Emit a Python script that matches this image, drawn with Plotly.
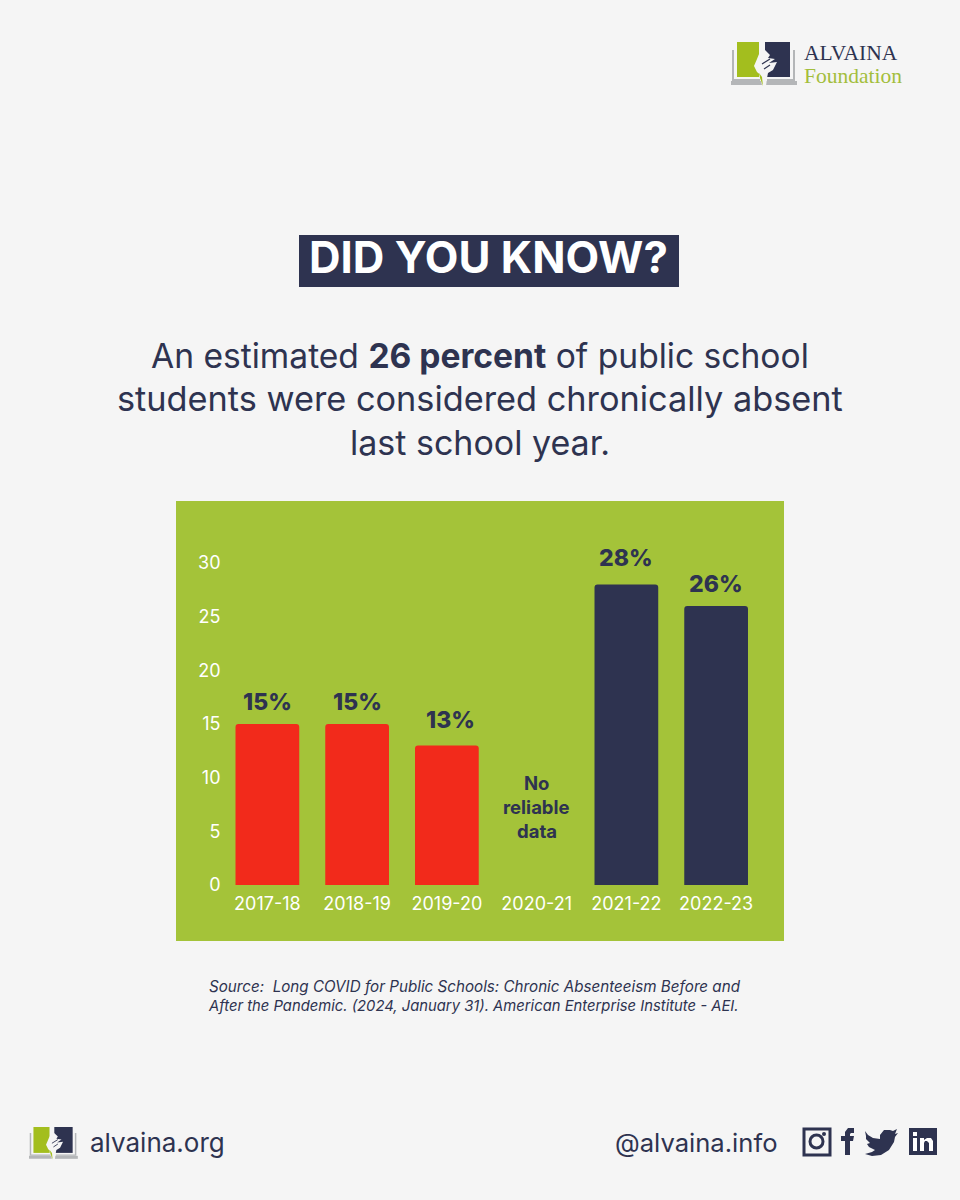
import plotly.graph_objects as go

# chart data
years = ["2017-18", "2018-19", "2019-20", "2020-21", "2021-22", "2022-23"]
percent = [15, 15, 13, None, 28, 26]
bar_colors = ["#F22A1B", "#F22A1B", "#F22A1B", "#F22A1B", "#2E3350", "#2E3350"]
y_ticks = [0, 5, 10, 15, 20, 25, 30]

NAVY = "#2E3350"
GREEN = "#A4C339"
LOGO_GREEN = "#A3BE1E"
BG = "#F5F5F5"
GREY = "#B4B6B8"
FONT = "Inter"

W, H = 960, 1200


def px(x):
    return x / W


def py(y):
    return 1 - y / H


shapes = []
annotations = []


def rect(x0, y0, x1, y1, color, layer="below"):
    shapes.append(dict(type="rect", xref="paper", yref="paper", x0=px(x0), x1=px(x1),
                       y0=py(y0), y1=py(y1), fillcolor=color, line=dict(width=0), layer=layer))


def path(points, color, ox=0, oy=0, s=1.0, closed=True, width=0):
    d = ""
    for i, (x, y) in enumerate(points):
        d += ("M" if i == 0 else "L") + f"{px(ox + x * s):.5f},{py(oy + y * s):.5f} "
    if closed:
        d += "Z"
    shapes.append(dict(type="path", xref="paper", yref="paper", path=d,
                       fillcolor=color if closed else None,
                       line=dict(width=width, color=color), layer="above"))


def label(x, y, text, size, color=NAVY, family=FONT, anchor="center"):
    annotations.append(dict(xref="paper", yref="paper", x=px(x), y=py(y), text=text,
                            showarrow=False, xanchor=anchor, yanchor="middle",
                            font=dict(size=size, color=color, family=family)))


def logo(ox, oy, s):
    # grey open book
    path([(2, 8), (2, 38), (29, 38)], GREY, ox, oy, s, closed=False, width=2 * s)
    path([(63, 8), (63, 38), (36, 38)], GREY, ox, oy, s, closed=False, width=2 * s)
    path([(0, 39), (30, 39), (31, 43), (0, 43)], GREY, ox, oy, s)
    path([(35, 39), (66, 39), (66, 43), (35, 43)], GREY, ox, oy, s)
    # two pages
    path([(6, 0), (28, 0), (28, 35), (6, 35)], LOGO_GREEN, ox, oy, s)
    path([(34, 0), (59, 0), (59, 35), (34, 35)], NAVY, ox, oy, s)
    # hand between the pages
    path([(34, 0), (34, 8), (39, 13), (37, 16), (44, 17), (38, 21), (46, 20), (42, 28), (37, 31), (36, 36),
          (35, 44), (33, 44), (33, 36), (26, 30), (23, 24), (26, 17), (28, 12), (28, 0)], BG, ox, oy, s)
    path([(31, 22), (39, 17)], NAVY, ox, oy, s, closed=False, width=1.2 * s)
    path([(33, 27), (39, 23)], NAVY, ox, oy, s, closed=False, width=1.2 * s)
    path([(28, 31), (31, 35), (32, 44), (29, 36)], LOGO_GREEN, ox, oy, s)


# panel and title box
rect(176, 501, 784, 941, GREEN)
rect(299, 235, 679, 287, NAVY)
label(488.5, 258, "<b>DID YOU KNOW?</b>", 43.7, "white")

label(480, 355, "An estimated <b>26 percent</b> of public school", 33.6)
label(480, 398, "students were considered chronically absent", 34.3)
label(480, 442, "last school year.", 34)

label(475, 986, "<i>Source:  Long COVID for Public Schools: Chronic Absenteeism Before and</i>", 15.2)
label(473, 1006, "<i>After the Pandemic. (2024, January 31). American Enterprise Institute - AEI.</i>", 14.8)

# logos
logo(731, 42, 1.0)
label(802, 53, "ALVAINA", 21.5, NAVY, "Liberation Serif", "left")
label(802, 76, "Foundation", 21.5, "#A3BE3C", "Liberation Serif", "left")
logo(29, 1127, 0.74)
label(88, 1142, "alvaina.org", 26, NAVY, FONT, "left")
label(780, 1142, "@alvaina.info", 25.6, NAVY, FONT, "right")

# instagram
shapes.append(dict(type="rect", xref="paper", yref="paper", x0=px(804), x1=px(830), y0=py(1129), y1=py(1155),
                   line=dict(color=NAVY, width=3), fillcolor="rgba(0,0,0,0)", layer="above"))
shapes.append(dict(type="circle", xref="paper", yref="paper", x0=px(810), x1=px(823), y0=py(1135), y1=py(1148),
                   line=dict(color=NAVY, width=3), fillcolor="rgba(0,0,0,0)", layer="above"))
shapes.append(dict(type="circle", xref="paper", yref="paper", x0=px(822), x1=px(826), y0=py(1132), y1=py(1136),
                   line=dict(width=0), fillcolor=NAVY, layer="above"))
# facebook
path([(845, 1155), (845, 1141), (841, 1141), (841, 1136), (845, 1136), (845, 1132), (848, 1128), (854, 1128),
      (854, 1133), (851, 1133), (850, 1134), (850, 1136), (854, 1136), (853, 1141), (850, 1141), (850, 1155)], NAVY)
# twitter
path([(865, 1131), (868, 1135), (873, 1138), (880, 1139), (880, 1135), (884, 1130), (890, 1130), (893, 1131),
      (897, 1129), (895, 1134), (898, 1133), (895, 1137), (894, 1142), (889, 1150), (881, 1155), (872, 1156),
      (865, 1154), (872, 1152), (875, 1150), (869, 1147), (867, 1144), (870, 1143), (866, 1139), (866, 1136)], NAVY)
# linkedin
rect(909, 1128, 937, 1155, NAVY, "above")
rect(913, 1138, 917, 1151, "white", "above")
rect(913, 1132, 917, 1136, "white", "above")
path([(920, 1138), (924, 1138), (924, 1140), (927, 1138), (931, 1138), (933, 1141), (933, 1151), (929, 1151),
      (929, 1143), (927, 1141), (925, 1141), (924, 1143), (924, 1151), (920, 1151)], "white")

fig = go.Figure(go.Bar(
    x=years,
    y=percent,
    marker=dict(color=bar_colors, line=dict(width=0), cornerradius=3),
    width=0.71,
    hoverinfo="skip",
))

# value labels sit a little unevenly above the bars in the original
label_dy = [22, 22, 25, 0, 26, 22]
label_dx = [0, 0, 4, 0, 0, 0]
for year, v, dy, dx in zip(years, percent, label_dy, label_dx):
    if v is None:
        continue
    annotations.append(dict(x=year, y=v, xref="x", yref="y", showarrow=False, yanchor="middle",
                            yshift=dy, xshift=dx, text=f"{v}%",
                            font=dict(size=23, color=NAVY, family=FONT, weight=800)))

for line, y in [("No", 9.5), ("reliable", 7.3), ("data", 5.0)]:
    annotations.append(dict(x="2020-21", y=y, xref="x", yref="y", showarrow=False, yanchor="middle",
                            text=f"<b>{line}</b>", font=dict(size=18.5, color=NAVY, family=FONT)))

fig.update_layout(
    width=W,
    height=H,
    margin=dict(l=0, r=0, t=0, b=0, autoexpand=False),
    paper_bgcolor=BG,
    plot_bgcolor="rgba(0,0,0,0)",
    showlegend=False,
    shapes=shapes,
    annotations=annotations,
    xaxis=dict(domain=[px(222.5), px(761)], showgrid=False, zeroline=False, showline=False,
               automargin=False, ticks="", tickfont=dict(size=18, color="white", family=FONT),
               ticklabelstandoff=6),
    yaxis=dict(domain=[py(885), py(563)], range=[0, 30], tickvals=y_ticks, showgrid=False,
               automargin=False, zeroline=False, showline=False, ticks="", ticklabelstandoff=1,
               tickfont=dict(size=18, color="white", family=FONT)),
)

fig.write_html("out.html", config=dict(displayModeBar=False),
               post_script="document.body.style.margin='0';")
